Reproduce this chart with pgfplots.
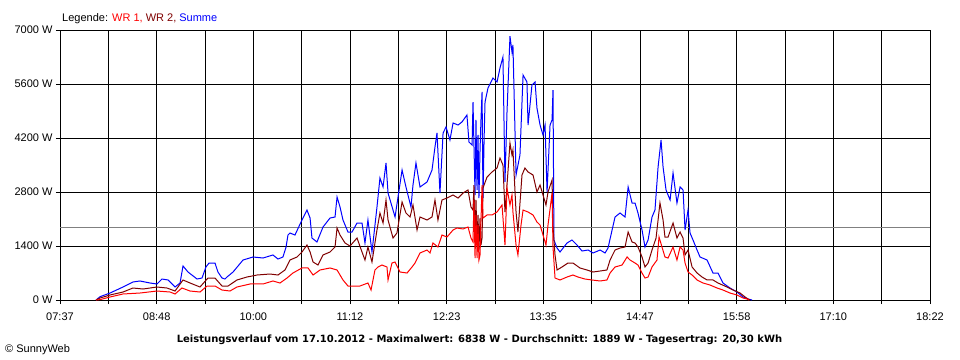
\documentclass[border=0pt]{standalone}
\usepackage{fontspec}
\setmainfont{Liberation Sans}
\newfontfamily\titlefont{DejaVu Sans}
\usepackage{pgfplots}
\pgfplotsset{compat=1.18}
\usepackage{pgfplotstable}
\definecolor{wrone}{RGB}{255,0,0}
\definecolor{wrtwo}{RGB}{128,0,0}
\definecolor{summe}{RGB}{0,0,255}
\definecolor{avg}{RGB}{128,128,128}

% t = minutes after midnight, W = power in watts
\pgfplotstableread{
t W
483.7 0
486.7 86
494.1 181
503.7 337
511.1 467
516.3 493
523.7 441
528.9 415
532.6 544
537.1 519
542.3 337
546.0 441
548.2 882
551.9 726
558.6 544
562.3 570
565.2 856
567.5 959
571.9 959
574.1 726
577.1 570
579.3 544
580.8 596
585.3 726
592.7 1037
600.1 1115
607.5 1089
614.9 1167
618.6 1063
622.3 1115
624.6 1374
626.0 1685
627.5 1737
631.2 1685
636.4 2074
640.1 2333
642.4 2126
643.8 1607
647.5 1504
652.0 1893
657.2 2126
660.9 2152
662.4 2670
664.6 2411
666.8 2074
670.5 1763
673.5 1763
677.2 1996
680.9 1996
683.1 1478
685.3 2074
688.3 1245
692.0 2411
694.2 3163
696.5 2930
698.7 3552
700.2 2774
705.4 2152
707.6 2670
710.6 3370
713.5 2930
717.2 2411
718.7 2981
720.9 3552
723.9 2930
729.1 3059
732.8 3370
735.0 3967
736.5 4330
738.7 2774
741.0 4330
743.2 4485
746.1 4148
748.4 4589
752.1 4537
755.0 4615
758.7 4796
760.2 4096
762.5 4019
763.2 5133
764.7 2722
765.4 4667
766.2 2852
766.9 4278
767.6 2644
768.4 3889
769.1 4667
769.9 5393
770.6 2644
771.4 4148
772.1 5133
774.3 5496
778.0 5756
781.0 5652
783.2 6015
785.4 6300
786.9 3059
788.4 4874
790.6 6838
792.1 6430
792.8 6611
795.1 3241
798.0 3759
800.3 5833
803.2 5652
804.0 4537
806.9 5574
809.2 5652
810.6 4978
812.9 4537
815.1 4278
816.6 4537
818.1 2800
820.3 4537
821.8 4667
822.5 5444
823.2 1556
825.5 1348
827.7 1245
832.9 1478
836.6 1556
840.3 1426
844.0 1270
848.5 1296
852.2 1219
857.4 1296
861.1 1219
863.3 1348
866.3 1815
868.5 2152
872.2 2256
875.9 2152
878.2 2930
881.1 2515
883.3 2515
885.5 2256
888.5 1815
890.7 1374
893.0 1556
895.9 2152
898.1 2333
900.4 3448
902.6 4148
904.1 3448
906.3 2852
909.3 2593
911.5 3293
914.4 2515
916.7 2930
918.9 2852
920.4 1815
922.6 2333
924.1 1737
926.3 1556
929.3 1296
931.5 1115
936.7 1037
941.1 700
944.8 700
948.5 441
953.7 311
958.9 207
963.4 78
967.1 26
970.0 0
}\summedata

\pgfplotstableread{
t W
483.7 0
486.7 52
494.1 130
503.7 207
511.1 311
518.5 285
528.9 337
536.3 311
542.3 233
548.2 519
553.4 441
560.8 337
566.7 570
571.9 570
577.1 363
581.6 363
588.2 519
595.6 596
603.1 648
612.7 674
618.6 648
623.8 778
627.5 1037
632.7 1115
636.4 1245
640.1 1426
642.4 1245
644.6 985
648.3 907
652.0 1167
657.2 1245
660.9 1374
662.4 1867
664.6 1685
668.3 1478
672.0 1400
677.2 1607
680.9 1245
683.1 1037
685.3 1374
688.3 985
692.0 1815
694.2 2256
696.5 1996
698.7 2593
700.2 2074
703.9 1607
706.8 1737
710.6 2541
713.5 2256
716.5 2152
718.7 2463
721.7 1815
723.9 2152
729.1 2074
732.8 2152
735.0 2593
737.2 2074
740.2 2593
743.9 2644
748.4 2722
752.1 2644
755.8 2774
759.5 2852
761.7 2411
763.2 2333
763.9 2981
764.7 1556
765.4 2593
766.2 1426
766.9 2204
767.6 1296
768.4 2126
769.1 1426
769.9 1607
770.6 2904
773.6 3189
777.3 3319
781.0 3422
783.2 3681
785.4 3500
786.9 2281
788.4 2981
790.6 4070
792.1 3759
792.8 3889
795.1 2281
796.5 1763
799.5 3241
801.7 3422
804.0 3319
807.7 3241
810.6 2800
812.9 2981
815.1 2722
817.3 2463
818.8 2800
821.8 3111
822.5 1893
824.0 1167
825.5 778
829.2 856
833.6 959
837.3 959
842.5 830
847.7 778
852.2 726
857.4 752
862.5 778
864.8 1037
868.5 1296
872.2 1348
875.9 1374
878.2 1763
881.1 1504
883.3 1478
885.5 1374
888.5 1115
890.7 856
893.0 959
895.9 1296
898.9 1607
901.8 2515
904.1 2074
905.5 1633
907.8 1633
911.5 1996
914.4 1607
916.7 1763
918.9 1607
920.4 1167
922.6 1296
925.6 856
929.3 700
933.0 596
936.7 519
941.1 519
944.8 441
951.5 337
956.0 259
961.2 181
964.9 78
967.1 26
968.6 0
}\wrtwodata

\pgfplotstableread{
t W
483.7 0
486.7 10
494.1 78
503.7 156
516.3 181
528.9 233
538.6 207
542.3 156
547.4 311
553.4 233
560.8 207
566.0 363
571.9 363
577.1 259
583.0 233
588.2 337
597.9 415
607.5 415
614.9 493
620.1 441
625.3 570
629.7 700
636.4 830
640.9 830
644.6 648
649.8 778
657.2 830
662.4 778
666.8 519
670.5 363
679.4 363
685.3 441
687.6 259
690.5 778
692.8 856
695.7 907
699.4 856
700.2 519
703.1 959
705.4 985
709.1 726
714.3 700
718.0 856
720.2 959
723.9 1219
729.1 1296
731.3 1219
733.5 1478
737.2 1374
740.2 1685
743.9 1633
748.4 1815
751.3 1867
755.8 1841
759.5 1893
761.7 1607
763.2 1504
763.9 2593
764.7 1089
765.4 2204
766.2 1089
766.9 1944
767.6 1037
768.4 1167
769.1 2022
769.9 2981
770.6 2126
773.6 2204
777.3 2204
781.0 2281
784.7 2463
786.9 1426
788.4 2904
790.6 2463
792.1 2722
792.8 2281
795.1 1426
796.5 1167
798.8 1944
800.3 2333
804.0 2281
807.7 2204
810.6 2022
812.9 1944
815.1 1685
817.3 1426
818.8 1944
821.8 2774
822.5 1374
824.0 570
827.7 519
832.9 596
837.3 648
841.0 596
846.2 544
851.4 519
857.4 493
862.5 519
864.8 700
868.5 856
873.7 907
877.4 1115
879.6 1037
883.3 959
885.5 907
888.5 700
890.7 570
893.0 596
895.9 856
899.6 1037
901.1 1633
903.3 1374
905.5 1115
907.8 1089
911.5 1374
914.4 1037
916.7 1374
918.9 1296
920.4 959
922.6 726
925.6 648
929.3 519
933.7 441
938.9 389
944.1 311
948.5 259
953.7 181
958.9 130
963.4 52
966.3 26
967.8 0
}\wronedata

\begin{document}
\begin{tikzpicture}[font=\fontsize{11bp}{13bp}\selectfont]
\path[use as bounding box, fill=white] (0,0) rectangle (960bp,-360bp);
\begin{axis}[
  at={(60bp,-300bp)}, anchor=south west,
  scale only axis, width=870bp, height=270bp,
  xmin=457, xmax=1102, ymin=0, ymax=7000,
  xtick={457,528.667,600.333,672,743.667,815.333,887,958.667,1030.333,1102},
  xticklabels={07:37,08:48,10:00,11:12,12:23,13:35,14:47,15:58,17:10,18:22},
  minor xtick={492.833,564.5,636.167,707.833,779.5,851.167,922.833,994.5,1066.167},
  ytick={0,1400,2800,4200,5600,7000},
  yticklabels={0 W,1400 W,2800 W,4200 W,5600 W,7000 W},
  tick pos=left,
  tick align=outside,
  major tick length=4bp, minor tick length=4bp,
  tick style={black, line width=1bp},
  grid=both,
  major grid style={black, line width=1bp},
  minor grid style={black, line width=1bp},
  axis line style={black, line width=1bp},
  xticklabel style={font=\fontsize{11bp}{13bp}\selectfont, yshift=-5bp},
  yticklabel style={font=\fontsize{11bp}{13bp}\selectfont},
]
\addplot[avg, line width=1bp] coordinates {(457,1889) (1102,1889)};
\addplot[summe, line width=1bp] table[x=t, y=W] {\summedata};
\addplot[wrtwo, line width=1bp] table[x=t, y=W] {\wrtwodata};
\addplot[wrone, line width=1bp] table[x=t, y=W] {\wronedata};
\end{axis}
\node[anchor=base west, inner sep=0pt] at (62bp,-21bp) {Legende: \textcolor{wrone}{WR 1,} \textcolor{wrtwo}{WR 2,} \textcolor{summe}{Summe}};
\node[anchor=base, inner sep=0pt, font=\titlefont\fontsize{10bp}{13bp}\selectfont\bfseries] at (479.5bp,-342bp) {Leistungsverlauf vom 17.10.2012 - Maximalwert: 6838 W - Durchschnitt: 1889 W - Tagesertrag: 20,30 kWh};
\node[anchor=base west, inner sep=0pt] at (5bp,-352bp) {© SunnyWeb};
\end{tikzpicture}
\end{document}
